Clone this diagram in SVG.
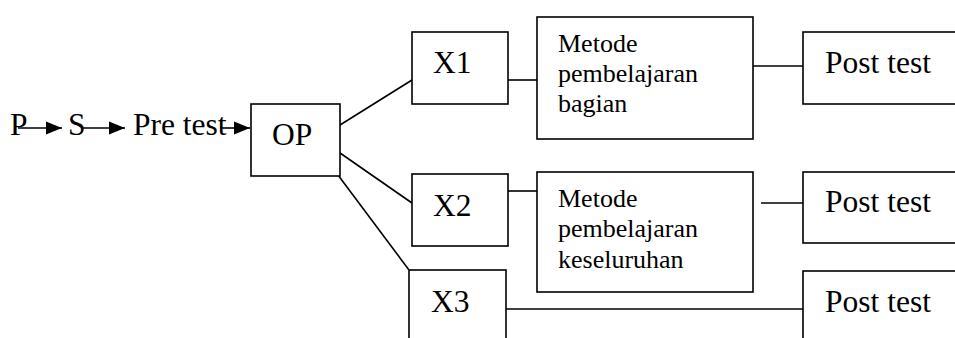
<svg xmlns="http://www.w3.org/2000/svg" width="955" height="338" viewBox="0 0 955 338">
<style>
.box{fill:#fff;stroke:#000;stroke-width:1.6}
.ln{stroke:#000;stroke-width:1.6;fill:none}
.big{font-family:"Liberation Serif","Times New Roman",serif;font-size:31.5px;fill:#000}
.sm{font-family:"Liberation Serif","Times New Roman",serif;font-size:26px;fill:#000}
</style>
<defs>
<marker id="ah" markerUnits="userSpaceOnUse" markerWidth="18" markerHeight="14" refX="16" refY="7" orient="auto" overflow="visible">
<path d="M0,0.5 L16,7 L0,13.5 z" fill="#000"/>
</marker>
</defs>
<rect width="955" height="338" fill="#fff"/>
<g id="labels">
<text class="big" x="10" y="135">P</text>
<text class="big" x="68" y="135">S</text>
<text class="big" x="133" y="135">Pre test</text>
</g>
<g id="connectors">
<line class="ln" x1="18" y1="128" x2="62" y2="128" marker-end="url(#ah)"/>
<line class="ln" x1="82" y1="128" x2="125" y2="128" marker-end="url(#ah)"/>
<line class="ln" x1="220" y1="128" x2="250" y2="128" marker-end="url(#ah)"/>
<line class="ln" x1="340" y1="125" x2="412" y2="80"/>
<line class="ln" x1="340" y1="153" x2="412" y2="203"/>
<line class="ln" x1="338" y1="175" x2="409" y2="270"/>
<line class="ln" x1="505" y1="80" x2="537" y2="80"/>
<line class="ln" x1="753" y1="66" x2="803" y2="66"/>
<line class="ln" x1="505" y1="191" x2="537" y2="191"/>
<line class="ln" x1="761" y1="203" x2="803" y2="203"/>
<line class="ln" x1="506" y1="309" x2="803" y2="309"/>
</g>
<g id="op">
<rect class="box" x="251" y="104" width="89" height="72"/>
<text class="big" x="272" y="145">OP</text>
</g>
<g id="x1">
<rect class="box" x="412" y="32" width="96" height="72"/>
<text class="big" x="433" y="73">X1</text>
</g>
<g id="x2">
<rect class="box" x="412" y="174" width="96" height="72"/>
<text class="big" x="433" y="216">X2</text>
</g>
<g id="x3">
<rect class="box" x="409" y="270" width="97" height="80"/>
<text class="big" x="431" y="312">X3</text>
</g>
<g id="metode1">
<rect class="box" x="537" y="17" width="216" height="122"/>
<text class="sm" x="558" y="52">Metode</text>
<text class="sm" x="558" y="82">pembelajaran</text>
<text class="sm" x="558" y="112">bagian</text>
</g>
<g id="metode2">
<rect class="box" x="537" y="172" width="216" height="120"/>
<text class="sm" x="558" y="207">Metode</text>
<text class="sm" x="558" y="237">pembelajaran</text>
<text class="sm" x="558" y="268">keseluruhan</text>
</g>
<g id="post1">
<rect class="box" x="803" y="32" width="160" height="72"/>
<text class="big" x="825" y="73">Post test</text>
</g>
<g id="post2">
<rect class="box" x="803" y="172" width="160" height="71"/>
<text class="big" x="825" y="212">Post test</text>
</g>
<g id="post3">
<rect class="box" x="803" y="271" width="160" height="80"/>
<text class="big" x="825" y="312">Post test</text>
</g>
</svg>
